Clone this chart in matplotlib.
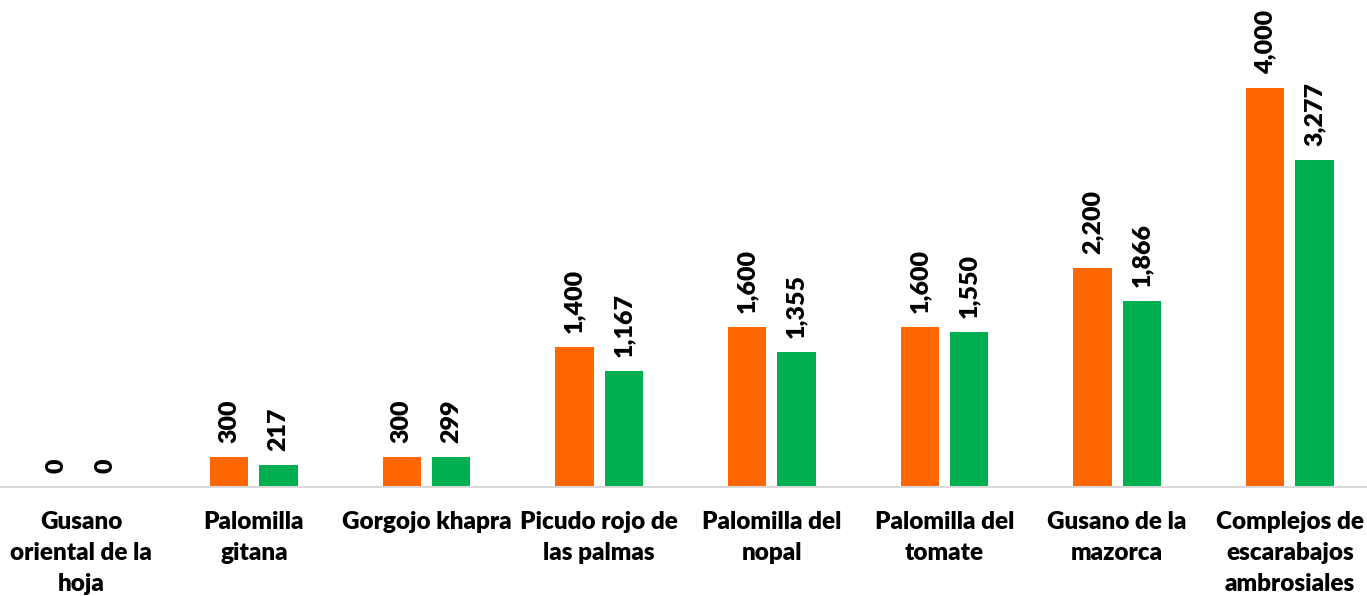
import matplotlib.pyplot as plt
import numpy as np

categorias = ["Gusano\noriental de la\nhoja", "Palomilla\ngitana", "Gorgojo khapra",
              "Picudo rojo de\nlas palmas", "Palomilla del\nnopal", "Palomilla del\ntomate",
              "Gusano de la\nmazorca", "Complejos de\nescarabajos\nambrosiales"]
serie_naranja = [0, 300, 300, 1400, 1600, 1600, 2200, 4000]
serie_verde = [0, 217, 299, 1167, 1355, 1550, 1866, 3277]

plt.rcParams['font.family'] = ['Lato', 'DejaVu Sans']

fig = plt.figure(figsize=(13.67, 5.96), dpi=100)
ax = fig.add_axes([0, 0.183, 1, 0.817])

x = np.arange(len(categorias))
w = 0.223
b1 = ax.bar(x - 0.143, serie_naranja, w, color="#FF6600")
b2 = ax.bar(x + 0.143, serie_verde, w, color="#00B050")

for bars in (b1, b2):
    for r in bars:
        h = r.get_height()
        ax.annotate(f"{h:,.0f}", (r.get_x() + r.get_width() / 2, h),
                    xytext=(0, 10), textcoords="offset points",
                    rotation=90, ha="center", va="bottom",
                    fontsize=18, fontweight="heavy")

ax.set_xlim(-0.47, 7.447)
ax.set_ylim(0, 4882)
ax.set_xticks(x)
ax.set_xticklabels(categorias, fontsize=17.5, fontweight="heavy", linespacing=1.5)
ax.tick_params(axis="x", length=0, pad=17)
ax.set_yticks([])
for s in ["top", "left", "right"]:
    ax.spines[s].set_visible(False)
ax.spines["bottom"].set_color("#D9D9D9")
ax.spines["bottom"].set_linewidth(1.5)

fig.savefig("out.png", dpi=100)
